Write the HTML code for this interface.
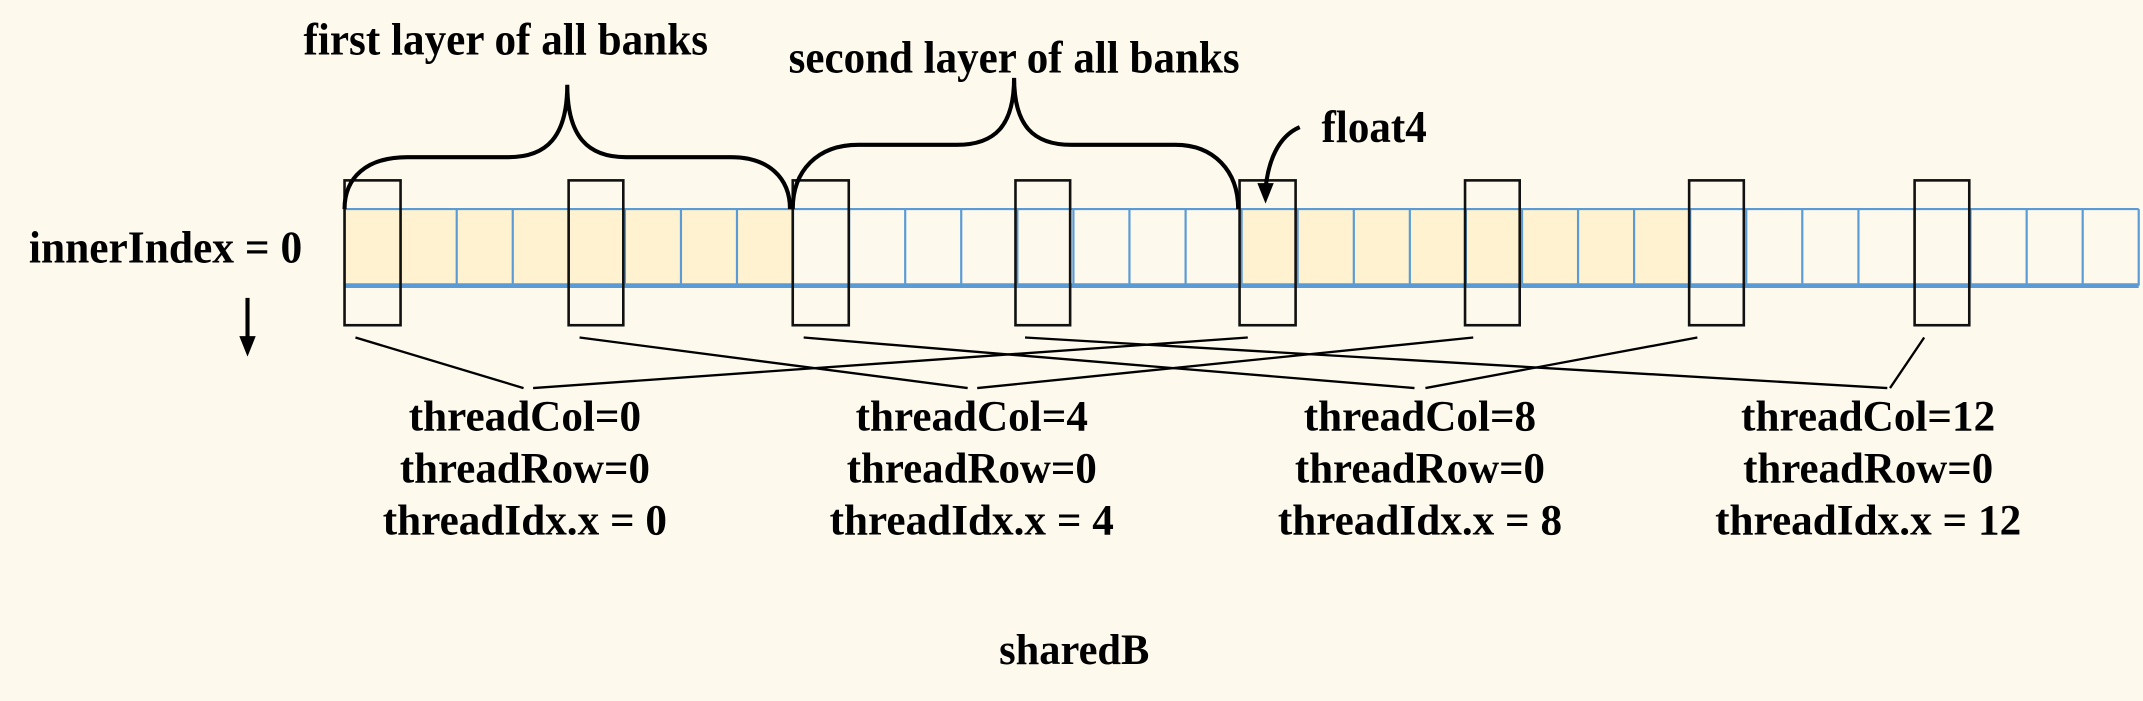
<!DOCTYPE html>
<html><head><meta charset="utf-8"><style>
html,body{margin:0;padding:0;background:#fdf9ec;}
svg{display:block;}
text{font-family:"Liberation Serif",serif;font-weight:bold;fill:#000;}
</style></head><body>
<svg width="2143" height="701" viewBox="0 0 1568 513" xmlns="http://www.w3.org/2000/svg">
<rect x="0" y="0" width="1568" height="513" fill="#fdf9ec"/>
<rect x="252" y="153" width="328.2" height="56" fill="#fff2d0"/>
<rect x="908.5" y="153" width="328.2" height="56" fill="#fff2d0"/>
<g stroke="#5b9bd5" stroke-width="1.6">
<line x1="252" y1="153" x2="1565" y2="153"/>
<line x1="252" y1="153" x2="252" y2="209"/><line x1="293" y1="153" x2="293" y2="209"/><line x1="334.1" y1="153" x2="334.1" y2="209"/><line x1="375.1" y1="153" x2="375.1" y2="209"/>
<line x1="416.1" y1="153" x2="416.1" y2="209"/><line x1="457.2" y1="153" x2="457.2" y2="209"/><line x1="498.2" y1="153" x2="498.2" y2="209"/><line x1="539.2" y1="153" x2="539.2" y2="209"/>
<line x1="580.2" y1="153" x2="580.2" y2="209"/><line x1="621.3" y1="153" x2="621.3" y2="209"/><line x1="662.3" y1="153" x2="662.3" y2="209"/><line x1="703.3" y1="153" x2="703.3" y2="209"/>
<line x1="744.4" y1="153" x2="744.4" y2="209"/><line x1="785.4" y1="153" x2="785.4" y2="209"/><line x1="826.4" y1="153" x2="826.4" y2="209"/><line x1="867.5" y1="153" x2="867.5" y2="209"/>
<line x1="908.5" y1="153" x2="908.5" y2="209"/><line x1="949.5" y1="153" x2="949.5" y2="209"/><line x1="990.6" y1="153" x2="990.6" y2="209"/><line x1="1031.6" y1="153" x2="1031.6" y2="209"/>
<line x1="1072.6" y1="153" x2="1072.6" y2="209"/><line x1="1113.7" y1="153" x2="1113.7" y2="209"/><line x1="1154.7" y1="153" x2="1154.7" y2="209"/><line x1="1195.7" y1="153" x2="1195.7" y2="209"/>
<line x1="1236.8" y1="153" x2="1236.8" y2="209"/><line x1="1277.8" y1="153" x2="1277.8" y2="209"/><line x1="1318.8" y1="153" x2="1318.8" y2="209"/><line x1="1359.9" y1="153" x2="1359.9" y2="209"/>
<line x1="1400.9" y1="153" x2="1400.9" y2="209"/><line x1="1441.9" y1="153" x2="1441.9" y2="209"/><line x1="1483" y1="153" x2="1483" y2="209"/><line x1="1524" y1="153" x2="1524" y2="209"/>
<line x1="1565" y1="153" x2="1565" y2="209"/>
</g>
<line x1="252" y1="209" x2="1565" y2="209" stroke="#5b9bd5" stroke-width="3.5"/>
<g stroke="#111" stroke-width="1.9" fill="none">
<rect x="252" y="132" width="41" height="106"/>
<rect x="416" y="132" width="40" height="106"/>
<rect x="580" y="132" width="41" height="106"/>
<rect x="743" y="132" width="40" height="106"/>
<rect x="907" y="132" width="41" height="106"/>
<rect x="1072" y="132" width="40" height="106"/>
<rect x="1236" y="132" width="40" height="106"/>
<rect x="1401" y="132" width="40" height="106"/>
</g>
<g stroke="#000" stroke-width="3" fill="none">
<path d="M252,153 C252,130 268,115 298,115 L372,115 C400,115 415,100 415,62 C415,100 430,115 458,115 L535,115 C562,115 578,130 578,153"/>
<path d="M580,153 C580,125 598,106 628,106 L700,106 C728,106 742,92 742,57 C742,92 756,106 784,106 L860,106 C888,106 906,125 906,153"/>
<path d="M951,93 C935,100 928,118 926,138"/>
</g>
<polygon points="920,134 932,134 926,149" fill="#000"/>
<g stroke="#000" stroke-width="1.7" fill="none">
<polyline points="260,247 383,284"/><polyline points="390,284 913,247"/>
<polyline points="424,247 708,284"/><polyline points="715,284 1078,247"/>
<polyline points="588,247 1035,284"/><polyline points="1043,284 1242,247"/>
<polyline points="750,247 1381,284"/><polyline points="1383,284 1408,247"/>
</g>
<line x1="181" y1="218" x2="181" y2="248" stroke="#000" stroke-width="3"/>
<polygon points="175,246 187,246 181,261" fill="#000"/>
<text x="222" y="40" font-size="33" textLength="296" lengthAdjust="spacingAndGlyphs">first layer of all banks</text>
<text x="577" y="53" font-size="33" textLength="330" lengthAdjust="spacingAndGlyphs">second layer of all banks</text>
<text x="967" y="104" font-size="33" textLength="77" lengthAdjust="spacingAndGlyphs">float4</text>
<text x="21" y="192" font-size="33" textLength="200" lengthAdjust="spacingAndGlyphs">innerIndex = 0</text>
<g font-size="32" text-anchor="middle">
<text x="384" y="315" textLength="170" lengthAdjust="spacingAndGlyphs">threadCol=0</text>
<text x="384" y="353" textLength="183" lengthAdjust="spacingAndGlyphs">threadRow=0</text>
<text x="384" y="391" textLength="208" lengthAdjust="spacingAndGlyphs">threadIdx.x = 0</text>
<text x="711" y="315" textLength="170" lengthAdjust="spacingAndGlyphs">threadCol=4</text>
<text x="711" y="353" textLength="183" lengthAdjust="spacingAndGlyphs">threadRow=0</text>
<text x="711" y="391" textLength="208" lengthAdjust="spacingAndGlyphs">threadIdx.x = 4</text>
<text x="1039" y="315" textLength="170" lengthAdjust="spacingAndGlyphs">threadCol=8</text>
<text x="1039" y="353" textLength="183" lengthAdjust="spacingAndGlyphs">threadRow=0</text>
<text x="1039" y="391" textLength="208" lengthAdjust="spacingAndGlyphs">threadIdx.x = 8</text>
<text x="1367" y="315" textLength="186" lengthAdjust="spacingAndGlyphs">threadCol=12</text>
<text x="1367" y="353" textLength="183" lengthAdjust="spacingAndGlyphs">threadRow=0</text>
<text x="1367" y="391" textLength="224" lengthAdjust="spacingAndGlyphs">threadIdx.x = 12</text>
<text x="786" y="486" textLength="110" lengthAdjust="spacingAndGlyphs">sharedB</text>
</g>
</svg>
</body></html>
